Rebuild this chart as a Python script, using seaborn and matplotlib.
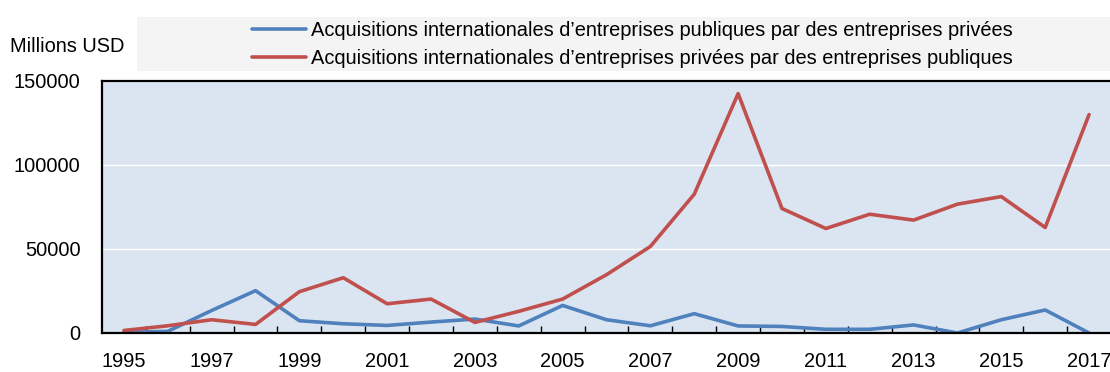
import matplotlib
matplotlib.use("Agg")
import matplotlib.pyplot as plt
from matplotlib.patches import Rectangle
from matplotlib.ticker import FixedLocator, FixedFormatter
import pandas as pd
import seaborn as sns

# Annual values, millions USD
years = list(range(1995, 2018))
public_by_private = [300, 1000, 13400, 25200, 7300, 5500, 4500, 6500, 8300, 4200,
                     16400, 7900, 4300, 11500, 4200, 3900, 2200, 2200, 4800, 0,
                     7900, 13700, 0]
private_by_public = [1500, 4300, 7900, 5100, 24600, 32900, 17400, 20200, 6300, 12900,
                     20200, 34700, 51500, 82600, 142500, 74100, 62200, 70700, 67200,
                     76700, 81200, 62800, 130000]

series_labels = [
    "Acquisitions internationales d\u2019entreprises publiques par des entreprises privées",
    "Acquisitions internationales d\u2019entreprises privées par des entreprises publiques",
]
series_colors = ["#4F81BD", "#C0504D"]
y_ticks = [0, 50000, 100000, 150000]
x_label_years = list(range(1995, 2018, 2))

df = pd.DataFrame({
    "year": years * 2,
    "value": public_by_private + private_by_public,
    "series": [series_labels[0]] * len(years) + [series_labels[1]] * len(years),
})

sns.set_style("white")
plt.rcParams["font.family"] = ["Liberation Sans", "DejaVu Sans"]
plt.rcParams["font.size"] = 14.4
for key in ["text.color", "axes.labelcolor", "xtick.color", "ytick.color"]:
    plt.rcParams[key] = "black"

W, H = 1110, 372
fig = plt.figure(figsize=(W / 100, H / 100), dpi=100)
ax = fig.add_axes([102 / W, (H - 333) / H, (1111 - 102) / W, (333 - 81) / H])
ax.set_facecolor("#DBE5F1")

sns.lineplot(data=df, x="year", y="value", hue="series", hue_order=series_labels,
             palette=series_colors, linewidth=2.6, ax=ax, legend=False, zorder=3)

ax.set_xlim(1994.5, 2017.5)
ax.set_ylim(0, 150000)

# y axis: labels only, white gridlines
ax.yaxis.set_major_locator(FixedLocator(y_ticks))
ax.yaxis.set_major_formatter(FixedFormatter([str(v) for v in y_ticks]))
ax.tick_params(axis="y", length=0, pad=15.5, labelcolor="black")
ax.grid(axis="y", color="white", linewidth=1.0, zorder=1)
ax.grid(axis="x", visible=False)

# x axis: labels every two years, small inward ticks between years
ax.xaxis.set_major_locator(FixedLocator(x_label_years))
ax.xaxis.set_major_formatter(FixedFormatter([str(y) for y in x_label_years]))
ax.xaxis.set_minor_locator(FixedLocator([y + 0.5 for y in years[:-1]]))
ax.tick_params(axis="x", which="major", length=0, pad=13.5, labelcolor="black")
ax.tick_params(axis="x", which="minor", bottom=True, direction="in", length=5,
               width=1.0, color="black")
ax.set_xlabel("")
ax.set_ylabel("")

for side in ["left", "bottom", "top"]:
    ax.spines[side].set_visible(True)
    ax.spines[side].set_color("black")
    ax.spines[side].set_linewidth(1.6)
    ax.spines[side].set_zorder(4)
ax.spines["right"].set_visible(False)

# Legend band
fig.patches.append(Rectangle((137 / W, (H - 71) / H), 1 - 137 / W, 54 / H,
                             transform=fig.transFigure, facecolor="#F4F4F4",
                             edgecolor="none", zorder=0))
handles = [plt.Line2D([], [], color=c, linewidth=2.6) for c in series_colors]
fig.legend(handles, series_labels, loc="upper left",
           bbox_to_anchor=(252 / W, (H - 21) / H), frameon=False,
           handlelength=2.7, handletextpad=0.25, labelspacing=0.47,
           borderpad=0, borderaxespad=0, fontsize=14.4)

fig.text(10 / W, (H - 46) / H, "Millions USD", ha="left", va="center", fontsize=14.4)

fig.savefig("out.png", dpi=100)
